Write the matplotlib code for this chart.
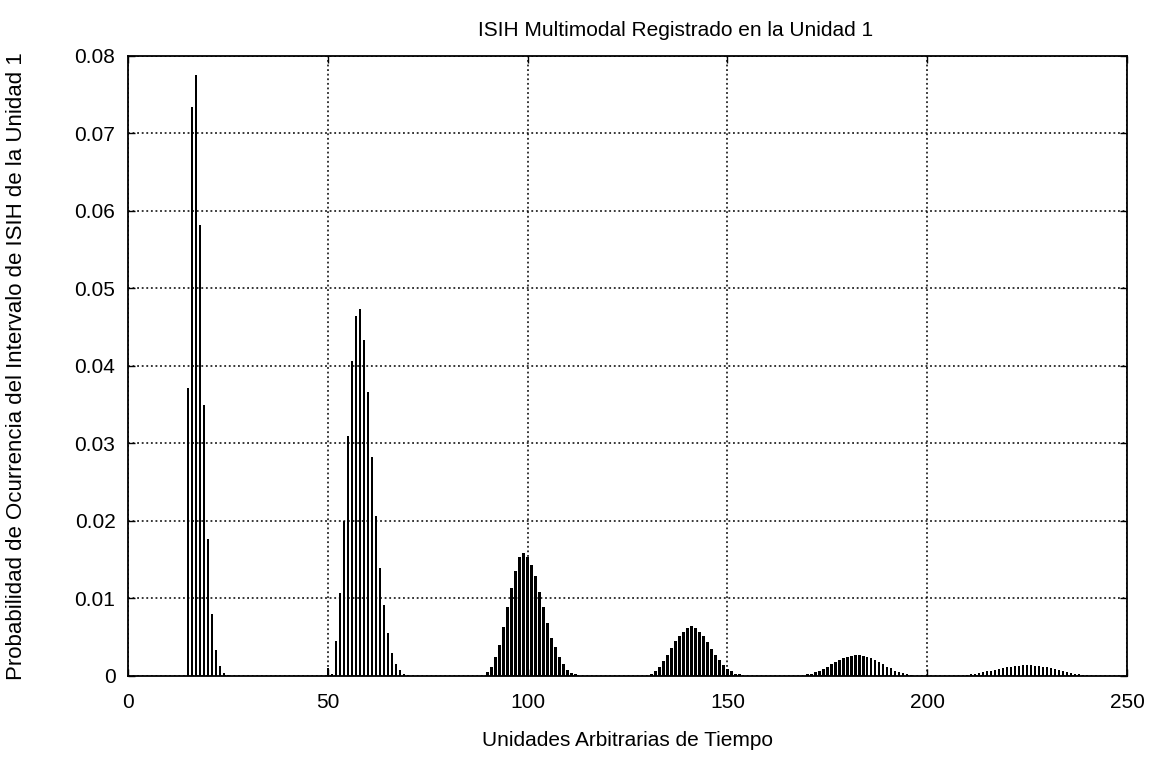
import numpy as np
import matplotlib
matplotlib.use('Agg')
import matplotlib.pyplot as plt

# first interval of each mode, then the probability of every interval in it
inicio_modos = [15, 50, 90, 131, 170, 210]

modo1 = [0.0372, 0.0734, 0.0775, 0.0582, 0.0349, 0.0177, 0.0080, 0.0034,
         0.0013, 0.0004, 0.0001]
modo2 = [0.0010, 0.0002, 0.0045, 0.0107, 0.0200, 0.0310, 0.0407, 0.0464,
         0.0473, 0.0433, 0.0366, 0.0282, 0.0207, 0.0139, 0.0091, 0.0055,
         0.0030, 0.0016, 0.0008, 0.0003, 0.0001]
modo3 = [0.0005, 0.0012, 0.0024, 0.0040, 0.0063, 0.0089, 0.0114, 0.0135,
         0.0153, 0.0159, 0.0153, 0.0143, 0.0129, 0.0108, 0.0089, 0.0068,
         0.0049, 0.0037, 0.0024, 0.0015, 0.0008, 0.0004, 0.0002]
modo4 = [0.0003, 0.0007, 0.0012, 0.0019, 0.0027, 0.0036, 0.0045, 0.0051,
         0.0057, 0.0062, 0.0064, 0.0062, 0.0057, 0.0051, 0.0044, 0.0035,
         0.0027, 0.0020, 0.0014, 0.0009, 0.0006, 0.0003, 0.0002]
modo5 = [0.0002, 0.0003, 0.0005, 0.0007, 0.0009, 0.0012, 0.0015, 0.0018,
         0.0021, 0.0023, 0.0025, 0.0026, 0.0027, 0.0027, 0.0026, 0.0025,
         0.0023, 0.0021, 0.0018, 0.0015, 0.0012, 0.0010, 0.0007, 0.0005,
         0.0004, 0.0002, 0.0001]
modo6 = [0.0001, 0.0002, 0.0003, 0.0004, 0.0005, 0.0006, 0.0007, 0.0008,
         0.0009, 0.0010, 0.0011, 0.0012, 0.0013, 0.0013, 0.0014, 0.0014,
         0.0014, 0.0013, 0.0013, 0.0012, 0.0011, 0.0010, 0.0009, 0.0008,
         0.0007, 0.0005, 0.0004, 0.0003, 0.0002, 0.0001, 0.0001]

x_ticks = [0, 50, 100, 150, 200, 250]
y_ticks = [0, 0.01, 0.02, 0.03, 0.04, 0.05, 0.06, 0.07, 0.08]

plt.rcParams['font.family'] = ['Liberation Sans', 'DejaVu Sans']
plt.rcParams['font.size'] = 15

# histogram over every time unit
intervalos = np.arange(0, 251)
prob = np.zeros(len(intervalos))
for start, vals in zip(inicio_modos, [modo1, modo2, modo3, modo4, modo5, modo6]):
    prob[start:start + len(vals)] = vals

fig = plt.figure(figsize=(11.53, 7.72), dpi=100)
ax = fig.add_axes([0.111, 0.1244, 0.8665, 0.8031])

ax.bar(intervalos, prob, width=0.6, color='black', linewidth=0, zorder=3)

ax.set_xlim(0, 250)
ax.set_ylim(0, 0.08)
ax.set_xticks(x_ticks)
ax.set_yticks(y_ticks)
ax.set_yticklabels(['0'] + ['%.2f' % v for v in y_ticks[1:]])
ax.grid(True, color='black', linestyle=(0, (1.2, 1.8)), linewidth=1.1, zorder=1)
ax.tick_params(direction='in', top=True, right=True, length=5, width=1,
               labelsize=15)
ax.tick_params(axis='x', pad=12)
ax.tick_params(axis='y', pad=9)
for s in ax.spines.values():
    s.set_linewidth(1.3)
    s.set_zorder(4)

ax.text(0.5485, 1.0 + 25 / 620, 'ISIH Multimodal Registrado en la Unidad 1',
        transform=ax.transAxes, ha='center', va='center', fontsize=15)
ax.set_xlabel('Unidades Arbitrarias de Tiempo', fontsize=15)
ax.set_ylabel('Probabilidad de Ocurrencia del Intervalo de ISIH de la Unidad 1',
              fontsize=16)
ax.xaxis.set_label_coords(0.5, -0.088)
ax.yaxis.set_label_coords(-0.101, 0.5)

fig.savefig('out.png', dpi=100)
